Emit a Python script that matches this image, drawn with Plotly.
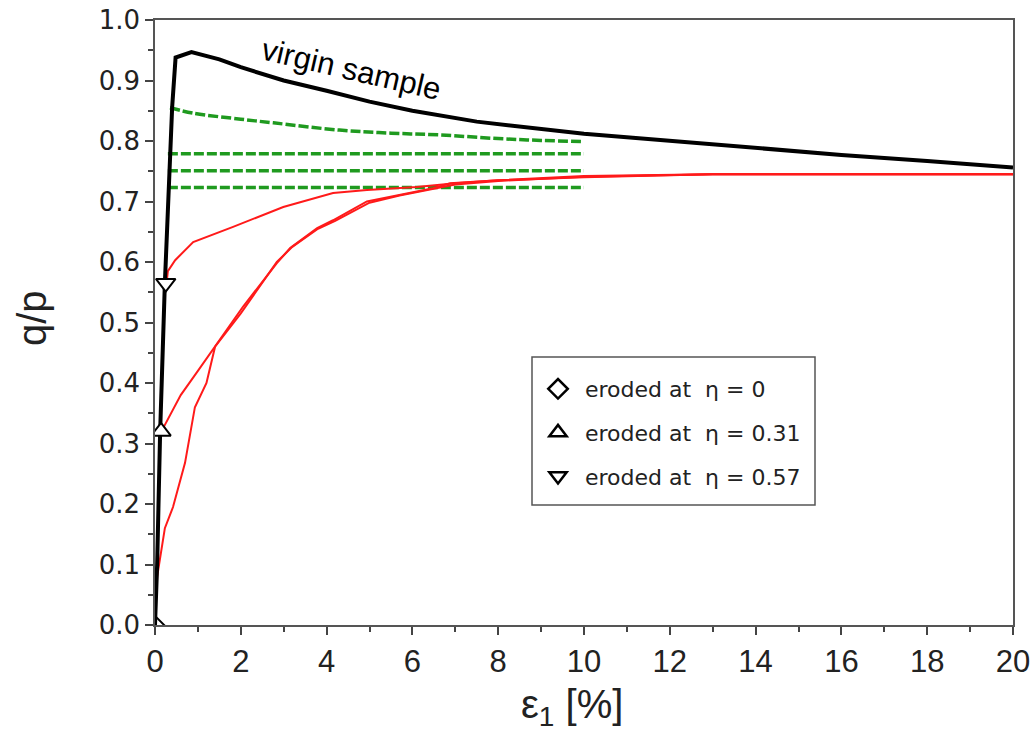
import plotly.graph_objects as go

# ---- data ----
virgin_x = [0, 0.05, 0.12, 0.23, 0.4, 0.48, 0.85, 1.5, 2, 3, 4, 5, 6, 7.5, 10, 12, 14, 16, 18, 20]
virgin_y = [0, 0.10, 0.32, 0.565, 0.856, 0.938, 0.947, 0.935, 0.922, 0.90, 0.883, 0.865, 0.85, 0.832, 0.812, 0.80, 0.788, 0.777, 0.767, 0.756]

green_top_x = [0.35, 0.89, 2, 2.76, 4.3, 5.5, 6.64, 8, 9, 10]
green_top_y = [0.855, 0.846, 0.836, 0.830, 0.818, 0.813, 0.810, 0.804, 0.801, 0.799]
green_flat_x = [0.3, 10]
green_flat_levels = [0.779, 0.751, 0.723]

red_057_x = [0.27, 0.3, 0.47, 0.89, 1.82, 2.99, 4.15, 4.94, 6.1, 7, 8, 10, 13, 20]
red_057_y = [0.565, 0.585, 0.603, 0.633, 0.658, 0.691, 0.714, 0.719, 0.724, 0.730, 0.735, 0.740, 0.745, 0.745]

red_031_x = [0.15, 0.6, 1.0, 1.4, 2.05, 2.84, 3.15, 3.78, 4.15, 4.94, 5.7, 6.48, 6.88, 8, 10, 13, 20]
red_031_y = [0.32, 0.38, 0.42, 0.46, 0.526, 0.598, 0.623, 0.656, 0.669, 0.700, 0.711, 0.722, 0.730, 0.735, 0.742, 0.745, 0.745]

red_0_x = [0, 0.05, 0.23, 0.42, 0.7, 0.93, 1.2, 1.4, 2.0, 2.84, 3.2, 3.8, 4.2, 5.0, 5.7, 6.5, 7, 8, 10, 13, 20]
red_0_y = [0.01, 0.08, 0.16, 0.195, 0.268, 0.36, 0.40, 0.46, 0.515, 0.600, 0.625, 0.655, 0.668, 0.698, 0.710, 0.721, 0.728, 0.734, 0.741, 0.745, 0.745]

markers_x = [0, 0.14, 0.25]
markers_y = [0, 0.32, 0.565]
marker_symbols = ["diamond-open", "triangle-up", "triangle-down"]
legend_labels = [" eroded at  η = 0", " eroded at  η = 0.31", " eroded at  η = 0.57"]

x_ticks = list(range(0, 21, 2))
y_ticks = [round(i * 0.1, 1) for i in range(11)]

fig = go.Figure()

green = "#1f9a1f"
for lvl in green_flat_levels:
    fig.add_trace(go.Scatter(x=green_flat_x, y=[lvl, lvl], mode="lines",
                             line=dict(color=green, width=3.5, dash="10px,3px"), showlegend=False))
fig.add_trace(go.Scatter(x=green_top_x, y=green_top_y, mode="lines",
                         line=dict(color=green, width=3.5, dash="10px,3px", shape="spline"), showlegend=False))

red = "#ff1a1a"
for rx, ry in [(red_0_x, red_0_y), (red_031_x, red_031_y), (red_057_x, red_057_y)]:
    fig.add_trace(go.Scatter(x=rx, y=ry, mode="lines", line=dict(color=red, width=2),
                             showlegend=False))

fig.add_trace(go.Scatter(x=virgin_x, y=virgin_y, mode="lines",
                         line=dict(color="black", width=4), showlegend=False))

# markers on curves
for i in range(3):
    if i == 0:
        mk = dict(symbol="diamond-open", size=14, color="black", line=dict(width=2))
    else:
        mk = dict(symbol=marker_symbols[i], size=17, color="white", line=dict(color="black", width=2))
    fig.add_trace(go.Scatter(x=[markers_x[i]], y=[markers_y[i]], mode="markers", marker=mk,
                             showlegend=False, cliponaxis=True))

# legend entries
leg_syms = ["diamond-open", "triangle-up-open", "triangle-down-open"]
for i in range(3):
    fig.add_trace(go.Scatter(x=[None], y=[None], mode="markers", name=legend_labels[i],
                             legendgroup=str(i),
                             marker=dict(symbol=leg_syms[i], size=15, color="black",
                                         line=dict(color="black", width=2.5))))

fig.add_annotation(x=4.59, y=0.918, xref="x", yref="y", text="virgin sample", showarrow=False,
                   textangle=13, font=dict(family="Liberation Sans", size=31, color="black"))

fig.add_annotation(x=(32 - 155) / 858, y=(625 - 318) / 605, xref="paper", yref="paper",
                   xanchor="center", yanchor="middle", text="q/p", showarrow=False,
                   textangle=-90, font=dict(family="Liberation Sans", size=40, color="#222"))
fig.add_annotation(x=(572 - 155) / 858, y=(625 - 680) / 605, xref="paper", yref="paper",
                   xanchor="center", yanchor="top",
                   text="ε<sub>1</sub> [%]", showarrow=False,
                   font=dict(family="Liberation Sans", size=40, color="#222"))

# legend box
fig.add_shape(type="rect", xref="paper", yref="paper",
              x0=(532 - 155) / 858, x1=(815 - 155) / 858,
              y0=(625 - 505) / 605, y1=(625 - 357) / 605,
              line=dict(color="#555", width=1.5), fillcolor="white", layer="below")

axis_common = dict(showgrid=False, zeroline=False, showline=True, linecolor="#555", linewidth=1.5,
                   mirror=True, ticks="outside", ticklen=8, tickwidth=1.5, tickcolor="#444",
                   automargin=False)

fig.update_xaxes(range=[0, 20], tickvals=x_ticks, ticktext=[str(v) for v in x_ticks],
                 tickfont=dict(family="Liberation Sans", size=31, color="#222"),
                 minor=dict(dtick=1, ticks="outside", ticklen=5, tickcolor="#444"),
                 **axis_common)
fig.update_yaxes(range=[0, 1.0], tickvals=y_ticks, ticktext=[f"{v:.1f}" for v in y_ticks],
                 tickfont=dict(family="DejaVu Sans", size=26, color="#222"),
                 minor=dict(dtick=0.05, ticks="outside", ticklen=5, tickcolor="#444"),
                 **axis_common)

fig.update_layout(
    width=1035, height=732,
    margin=dict(l=155, r=22, t=20, b=107),
    plot_bgcolor="white", paper_bgcolor="white",
    showlegend=True,
    legend=dict(x=(538 - 155) / 858, y=(625 - 368) / 605, xanchor="left", yanchor="top",
                bgcolor="rgba(0,0,0,0)", borderwidth=0, tracegroupgap=12,
                font=dict(family="DejaVu Sans", size=22, color="#222")),
)

fig.write_html("out.html")
